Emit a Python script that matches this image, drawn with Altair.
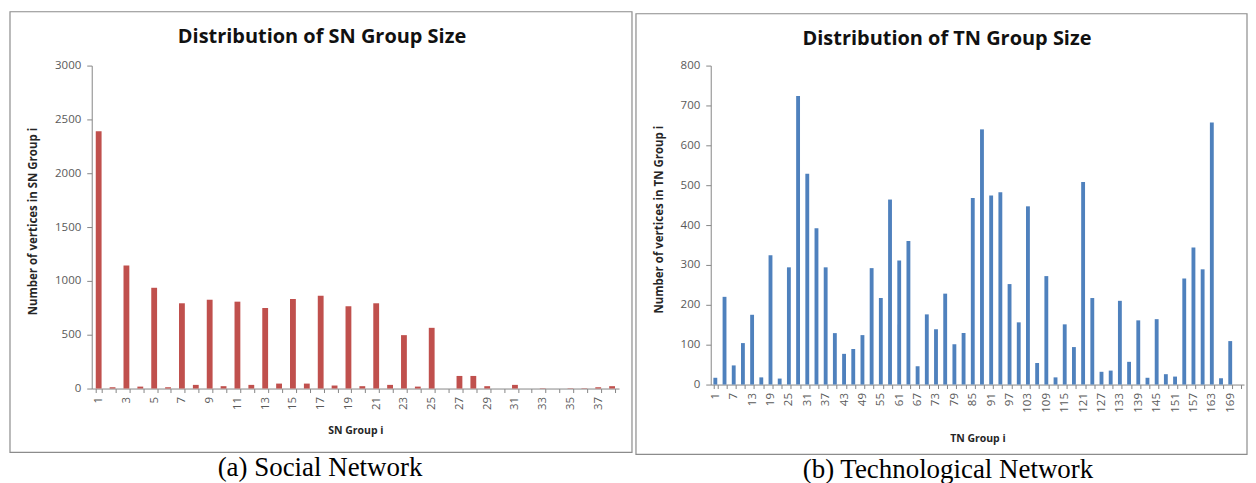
import altair as alt
import pandas as pd

# ---- data ----
sn_groups = list(range(1, 39))
sn_sizes = [2390, 12, 1143, 18, 936, 12, 792, 34, 825, 22,
            807, 34, 748, 46, 832, 46, 862, 28, 764, 22,
            792, 34, 496, 18, 564, 0, 117, 117, 22, 0,
            34, 0, 3, 0, 3, 3, 12, 22]

tn_groups = list(range(1, 173, 3))
tn_sizes = [17, 220, 48, 104, 175, 18, 324, 15, 294, 724,
            529, 392, 294, 129, 77, 89, 124, 292, 217, 464,
            311, 360, 46, 176, 139, 228, 101, 129, 468, 640,
            474, 482, 252, 156, 447, 54, 272, 18, 151, 94,
            508, 217, 32, 35, 210, 57, 161, 17, 164, 26,
            20, 266, 344, 289, 657, 16, 109, 0]

sn_y_ticks = [0, 500, 1000, 1500, 2000, 2500, 3000]
tn_y_ticks = [0, 100, 200, 300, 400, 500, 600, 700, 800]

FONT = "Open Sans"
AXC = "#868686"
LBL = "#595959"

one = pd.DataFrame({"k": [0]})


def panel(groups, sizes, color, ydom, yticks, width, height, label_expr,
          xtitle, ytitle, title, caption, box, title_xy, caption_xy,
          ytitle_x, xtitle_y):
    df = pd.DataFrame({"g": groups, "v": sizes})
    bars = alt.Chart(df).mark_bar(color=color).encode(
        x=alt.X("g:O",
                scale=alt.Scale(paddingInner=0.58, paddingOuter=0.29),
                axis=alt.Axis(title=xtitle, labelAngle=270, labelAlign="right",
                              labelBaseline="middle", labelExpr=label_expr,
                              labelOverlap=False, tickBand="extent",
                              tickSize=4, labelPadding=4, labelFont=FONT,
                              labelFontSize=11.5, labelColor=LBL,
                              domainColor=AXC, tickColor=AXC,
                              titleFont=FONT, titleFontSize=10.5,
                              titleFontWeight="bold", titleColor="#262626",
                              titleY=xtitle_y, titleBaseline="middle")),
        y=alt.Y("v:Q",
                scale=alt.Scale(domain=ydom, nice=False, zero=True),
                axis=alt.Axis(title=ytitle, values=yticks, grid=False,
                              format="d",
                              tickSize=5, labelPadding=6, labelFont=FONT,
                              labelFontSize=11.5, labelColor=LBL,
                              domainColor=AXC, tickColor=AXC,
                              titleFont=FONT, titleFontSize=11.5,
                              titleFontWeight="bold", titleColor="#262626",
                              titleX=ytitle_x, titleY=height / 2 - 6,
                              titleAngle=270, titleAlign="center",
                              titleBaseline="middle")),
    ).properties(width=width, height=height)

    border = alt.Chart(one).mark_rect(fillOpacity=0, stroke="#8c8c8c",
                                      strokeWidth=1.2).encode(
        x=alt.value(box[0]), x2=alt.value(box[1]),
        y=alt.value(box[2]), y2=alt.value(box[3]))

    ttl = alt.Chart(one).mark_text(text=title, font=FONT, fontSize=20,
                                   fontWeight="bold", color="#111111",
                                   align="center", baseline="middle").encode(
        x=alt.value(title_xy[0]), y=alt.value(title_xy[1]))

    cap = alt.Chart(one).mark_text(text=caption, font="Liberation Serif",
                                   fontSize=27, color="#000000",
                                   align="center", baseline="middle").encode(
        x=alt.value(caption_xy[0]), y=alt.value(caption_xy[1]))

    return alt.layer(border, bars, ttl, cap)


left = panel(sn_groups, sn_sizes, "#C0504D", [0, 3000], sn_y_ticks,
             529, 324, "datum.value % 2 == 1 ? datum.label : ''",
             "SN Group i", "Number of vertices in SN Group i",
             "Distribution of SN Group Size", "(a) Social Network",
             (-82, 542, -54, 388), (231, -29), (229, 404), -58, 42)

right = panel(tn_groups, tn_sizes, "#4F81BD", [0, 800], tn_y_ticks,
              535, 320, "(datum.value - 1) % 6 == 0 ? datum.label : ''",
              "TN Group i", "Number of vertices in TN Group i",
              "Distribution of TN Group Size", "(b) Technological Network",
              (-75, 538, -52, 390), (237, -27), (238, 406), -51, 54)

chart = alt.hconcat(left, right, spacing=2).properties(
    padding={"left": 1, "top": 2, "right": 0, "bottom": 0}
).configure_view(strokeWidth=0)

chart.save("out.html", embed_options={"renderer": "svg", "actions": False})
